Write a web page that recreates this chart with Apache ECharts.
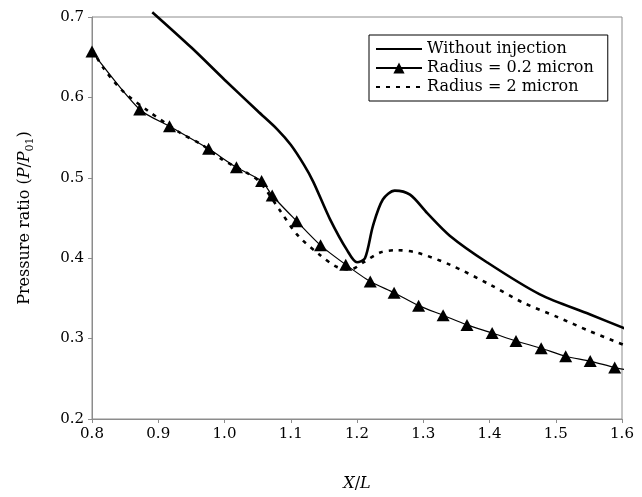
<!DOCTYPE html>
<html>
<head>
<meta charset="utf-8">
<script src="https://cdn.jsdelivr.net/npm/echarts@6/dist/echarts.min.js"></script>
<style>html,body{margin:0;padding:0;background:#fff;}#c{width:642px;height:497px;}</style>
</head>
<body>
<div id="c"></div>
<script>
// ---- data ----
var seriesNames = ['Without injection', 'Radius = 0.2 micron', 'Radius = 2 micron'];
var xTicks = [0.8, 0.9, 1.0, 1.1, 1.2, 1.3, 1.4, 1.5, 1.6];
var yTicks = [0.2, 0.3, 0.4, 0.5, 0.6, 0.7];

var xWithout = [0.891, 0.95, 1.0, 1.05, 1.08, 1.1, 1.12, 1.134, 1.159, 1.185, 1.2, 1.212, 1.224, 1.239, 1.257, 1.28, 1.306, 1.34, 1.396, 1.476, 1.552, 1.609];
var yWithout = [0.706, 0.662, 0.622, 0.583, 0.560, 0.541, 0.516, 0.495, 0.449, 0.410, 0.395, 0.400, 0.440, 0.473, 0.484, 0.479, 0.456, 0.428, 0.395, 0.355, 0.330, 0.311];

var xSmall = [0.800, 0.872, 0.917, 0.976, 1.018, 1.056, 1.072, 1.109, 1.145, 1.183, 1.220, 1.256, 1.293, 1.330, 1.366, 1.404, 1.440, 1.478, 1.515, 1.552, 1.589, 1.609];
var ySmall = [0.657, 0.585, 0.564, 0.536, 0.513, 0.496, 0.478, 0.446, 0.416, 0.392, 0.371, 0.357, 0.341, 0.329, 0.317, 0.307, 0.297, 0.288, 0.278, 0.272, 0.264, 0.261];
var smallMarked = [1,1,1,1,1,1,1,1,1,1,1,1,1,1,1,1,1,1,1,1,1,0];

var xLarge = [0.800, 0.817, 0.845, 0.885, 0.933, 0.966, 0.996, 1.034, 1.052, 1.065, 1.084, 1.111, 1.144, 1.170, 1.190, 1.210, 1.235, 1.260, 1.290, 1.340, 1.401, 1.450, 1.502, 1.552, 1.609];
var yLarge = [0.660, 0.637, 0.609, 0.583, 0.556, 0.541, 0.523, 0.506, 0.496, 0.482, 0.459, 0.428, 0.404, 0.389, 0.386, 0.395, 0.407, 0.410, 0.407, 0.392, 0.367, 0.345, 0.327, 0.309, 0.290];

function pairs(xs, ys) { return xs.map(function (x, i) { return [x, ys[i]]; }); }

var FONT = 'DejaVu Serif';
var chart = echarts.init(document.getElementById('c'), null, {renderer: 'canvas'});

var smallData = xSmall.map(function (x, i) {
  var d = {value: [x, ySmall[i]]};
  if (!smallMarked[i]) d.symbol = 'none';
  return d;
});

var hiddenSym = {color: 'rgba(0,0,0,0)', borderWidth: 0, opacity: 0};

chart.setOption({
  animation: false,
  backgroundColor: '#fff',
  textStyle: {fontFamily: FONT, color: '#000'},
  grid: {left: 92, right: 20, top: 17, bottom: 70, show: true, borderColor: '#8c8c8c', borderWidth: 1, containLabel: false},
  legend: {
    data: [
      {name: seriesNames[0], itemStyle: hiddenSym},
      {name: seriesNames[1]},
      {name: seriesNames[2], itemStyle: hiddenSym}
    ],
    orient: 'vertical',
    left: 369, top: 35,
    padding: [6, 14, 6, 6],
    itemGap: 3,
    itemWidth: 46, itemHeight: 14,
    borderColor: '#000', borderWidth: 1,
    backgroundColor: '#fff',
    textStyle: {fontFamily: FONT, fontSize: 16, color: '#000'}
  },
  xAxis: {
    type: 'value', min: 0.8, max: 1.6, interval: 0.1,
    name: '{i|X}/{i|L}', nameLocation: 'middle', nameGap: 57,
    nameTextStyle: {fontFamily: FONT, fontSize: 16, color: '#000', rich: {i: {fontStyle: 'italic', fontFamily: FONT, fontSize: 16}}},
    axisLine: {show: true, lineStyle: {color: '#8c8c8c', width: 1}},
    axisTick: {show: true, inside: false, length: 4, lineStyle: {color: '#8c8c8c'}},
    axisLabel: {margin: 8, fontFamily: FONT, fontSize: 15, color: '#000', formatter: function (v) { return v.toFixed(1); }},
    splitLine: {show: false}
  },
  yAxis: {
    type: 'value', min: 0.2, max: 0.7, interval: 0.1,
    name: 'Pressure ratio ({i|P}/{i|P}{s|01})', nameLocation: 'middle', nameGap: 56, nameRotate: 90,
    nameTextStyle: {fontFamily: FONT, fontSize: 16, color: '#000', lineHeight: 22,
      rich: {i: {fontStyle: 'italic', fontFamily: FONT, fontSize: 16, lineHeight: 22},
             s: {fontFamily: FONT, fontSize: 11, verticalAlign: 'bottom', lineHeight: 16}}},
    axisLine: {show: true, lineStyle: {color: '#8c8c8c', width: 1}},
    axisTick: {show: true, inside: false, length: 4, lineStyle: {color: '#8c8c8c'}},
    axisLabel: {margin: 8, fontFamily: FONT, fontSize: 15, color: '#000', formatter: function (v) { return v.toFixed(1); }},
    splitLine: {show: false}
  },
  series: [
    {
      name: seriesNames[0], type: 'line', data: pairs(xWithout, yWithout),
      smooth: 0.3, symbol: 'none', clip: false,
      lineStyle: {color: '#000', width: 2.6}, itemStyle: {color: '#000'}
    },
    {
      name: seriesNames[1], type: 'line', data: smallData,
      smooth: 0.25, symbol: 'triangle', symbolSize: [13, 12], clip: false,
      showAllSymbol: true,
      lineStyle: {color: '#000', width: 1.2}, itemStyle: {color: '#000'}
    },
    {
      name: seriesNames[2], type: 'line', data: pairs(xLarge, yLarge),
      smooth: 0.3, symbol: 'none', clip: false,
      lineStyle: {color: '#000', width: 2.6, type: [4, 6]}, itemStyle: {color: '#000'}
    }
  ]
});
</script>
</body>
</html>
